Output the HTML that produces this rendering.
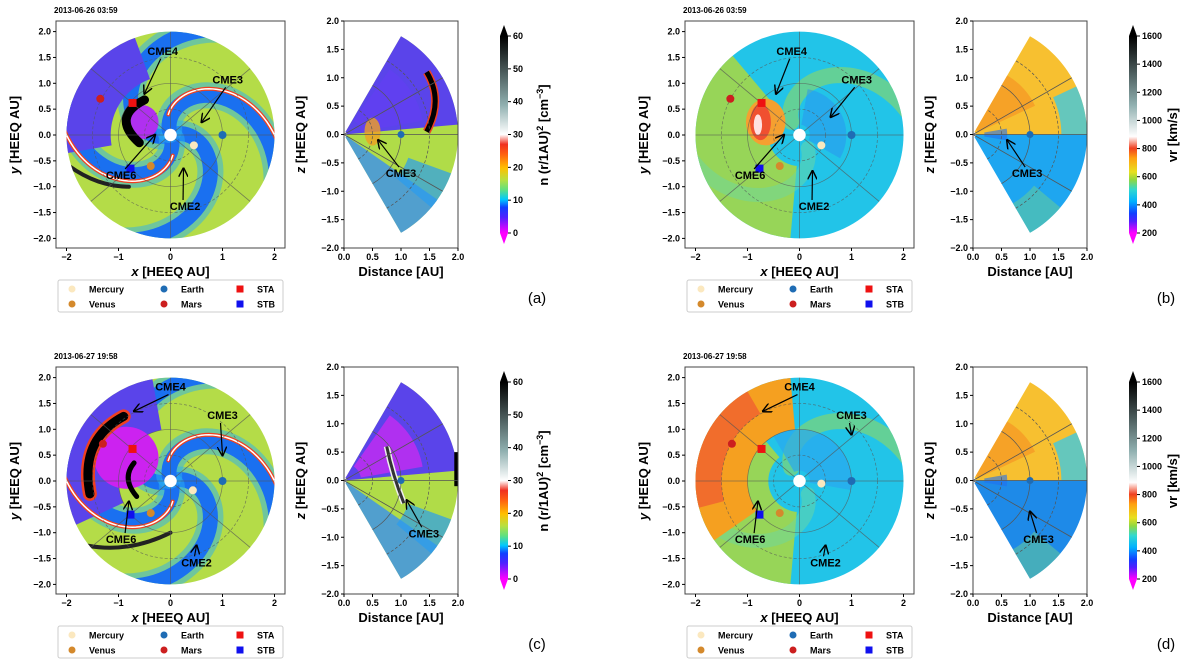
<!DOCTYPE html>
<html><head><meta charset="utf-8"><style>
html,body{margin:0;padding:0;background:#fff}
svg{display:block;font-family:"Liberation Sans",sans-serif}
</style></head><body>
<svg id="fig" width="1200" height="664" viewBox="0 0 1200 664" xmlns="http://www.w3.org/2000/svg">
<defs>
<linearGradient id="cbN" x1="0" y1="1" x2="0" y2="0">
<stop offset="0" stop-color="#ff00ff"/><stop offset="0.08" stop-color="#5020ff"/><stop offset="0.13" stop-color="#1040ff"/><stop offset="0.17" stop-color="#00c8ff"/><stop offset="0.22" stop-color="#60e080"/><stop offset="0.27" stop-color="#b8e040"/><stop offset="0.33" stop-color="#ffc000"/><stop offset="0.4" stop-color="#ff6010"/><stop offset="0.45" stop-color="#f03020"/><stop offset="0.5" stop-color="#ffffff"/><stop offset="0.65" stop-color="#90b0b0"/><stop offset="1" stop-color="#000000"/>
</linearGradient>
<linearGradient id="cbV" x1="0" y1="1" x2="0" y2="0">
<stop offset="0" stop-color="#ff00ff"/><stop offset="0.06" stop-color="#5020ff"/><stop offset="0.1" stop-color="#1040ff"/><stop offset="0.16" stop-color="#00b0ff"/><stop offset="0.22" stop-color="#30d8d0"/><stop offset="0.27" stop-color="#90d840"/><stop offset="0.31" stop-color="#e8e020"/><stop offset="0.38" stop-color="#ffa010"/><stop offset="0.43" stop-color="#f04020"/><stop offset="0.49" stop-color="#ffffff"/><stop offset="0.65" stop-color="#90b0b0"/><stop offset="1" stop-color="#000000"/>
</linearGradient>
<marker id="ah" markerWidth="8" markerHeight="8" refX="7" refY="4" orient="auto"><path d="M0,0 L8,4 L0,8" fill="none" stroke="#000" stroke-width="1.2"/></marker>
</defs>
</svg>
<script>
const xTicks=[-2,-1,0,1,2];
const yTicks=[2.0,1.5,1.0,0.5,0.0,-0.5,-1.0,-1.5,-2.0];
const dTicks=[0.0,0.5,1.0,1.5,2.0];
const nCbTicks=[0,10,20,30,40,50,60];
const vCbTicks=[200,400,600,800,1000,1200,1400,1600];
const dates=["2013-06-26 03:59","2013-06-26 03:59","2013-06-27 19:58","2013-06-27 19:58"];
const letters=["(a)","(b)","(c)","(d)"];
const kinds=["n","v","n","v"];
const mercuryPos=[[0.45,-0.2],[0.42,-0.2],[0.43,-0.18],[0.42,-0.05]];
const venusPos=[[-0.38,-0.6],[-0.38,-0.6],[-0.38,-0.62],[-0.38,-0.62]];
const earthPos=[[1.0,0.0],[1.0,0.0],[1.0,0.0],[1.0,0.0]];
const marsPos=[[-1.35,0.7],[-1.33,0.7],[-1.3,0.72],[-1.3,0.72]];
const staPos=[[-0.73,0.62],[-0.73,0.62],[-0.73,0.62],[-0.73,0.62]];
const stbPos=[[-0.77,-0.65],[-0.77,-0.65],[-0.77,-0.65],[-0.77,-0.65]];
const cmeLabels=["CME4","CME3","CME6","CME2"];
const cmeText=[[[-0.15,1.55],[1.1,1.0],[-0.95,-0.85],[0.28,-1.45]],[[-0.15,1.55],[1.1,1.0],[-0.95,-0.85],[0.28,-1.45]],[[0.0,1.75],[1.0,1.2],[-0.95,-1.2],[0.5,-1.65]],[[0.0,1.75],[1.0,1.2],[-0.95,-1.2],[0.5,-1.65]]];
const cmeTip=[[[-0.5,0.8],[0.6,0.25],[-0.3,0.0],[0.25,-0.65]],[[-0.45,0.8],[0.6,0.35],[-0.3,0.0],[0.25,-0.7]],[[-0.7,1.35],[1.0,0.5],[-0.8,-0.4],[0.5,-1.25]],[[-0.7,1.35],[1.0,0.9],[-0.8,-0.4],[0.5,-1.25]]];
const wedgeCmeText=[[1.0,-0.75],[0.95,-0.75],[1.4,-1.0],[1.15,-1.1]];
const wedgeCmeTip=[[0.6,-0.1],[0.6,-0.1],[1.1,-0.35],[1.0,-0.55]];
const offsets=[[0,0],[629,0],[0,346],[629,346]];

const svg=document.getElementById('fig');
const NS="http://www.w3.org/2000/svg";
function mk(tag,attrs,parent){const e=document.createElementNS(NS,tag);for(const k in attrs)e.setAttribute(k,attrs[k]);(parent||svg).appendChild(e);return e;}
function txt(s,x,y,size,anchor,parent,extra){const t=mk('text',Object.assign({x:x,y:y,'font-size':size,'font-weight':'bold','text-anchor':anchor||'middle',fill:'#000'},extra||{}),parent);t.textContent=s;return t;}

function panel(p){
  const ox=offsets[p][0],oy=offsets[p][1],kind=kinds[p],late=p>=2;
  const g=mk('g',{});
  
  
  const cx=ox+170.5,cy=oy+135,sx=52,sy=51.7;
  const X=x=>cx+x*sx, Y=y=>cy-y*sy;
  const P=(r,a)=>[X(r*Math.cos(a*Math.PI/180)),Y(r*Math.sin(a*Math.PI/180))];
  function sector(r1,r2,a1,a2,fill,par,op){let pts=[];for(let i=0;i<=40;i++){pts.push(P(r2,a1+(a2-a1)*i/40));}for(let i=40;i>=0;i--){pts.push(P(r1,a1+(a2-a1)*i/40));}return mk('polygon',{points:pts.map(q=>q.join(',')).join(' '),fill:fill,opacity:op||1},par);}
  function spiral(phi0,k,r1,r2,col,w,par,op){let pts=[];for(let i=0;i<=40;i++){const r=r1+(r2-r1)*i/40;pts.push(P(r,phi0+k*r));}return mk('polyline',{points:pts.map(q=>q.join(',')).join(' '),fill:'none',stroke:col,'stroke-width':w,'stroke-linecap':'round',opacity:op||1},par);}
  function curve(a,b,c,col,w,par){return mk('path',{d:`M${X(a[0])},${Y(a[1])} Q${X(b[0])},${Y(b[1])} ${X(c[0])},${Y(c[1])}`,stroke:col,fill:'none','stroke-width':w,'stroke-linecap':'round'},par);}
  const dt=txt(dates[p],ox+54,oy+13,8,'start',g);
  
  const clipId='clip'+p;
  const cp=mk('clipPath',{id:clipId},g);mk('ellipse',{cx:cx,cy:cy,rx:2*sx,ry:2*sy},cp);
  const map=mk('g',{'clip-path':'url(#'+clipId+')'},g);
  
  if(kind==='n'){
    mk('rect',{x:cx-110,y:cy-110,width:220,height:220,fill:'#b4dc48'},map);
    [200,20,290,110].forEach((s,i)=>{spiral(s,-60,0.1,2.3,'#2ab0f0',26,map,0.5);spiral(s,-60,0.1,2.3,'#1a70f0',15,map);});
    if(late){
      sector(1.0,2.1,100,205,'#5a44ea',map);
      mk('ellipse',{cx:X(-0.85),cy:Y(0.45),rx:0.62*sx,ry:0.6*sy,fill:'#cc22f0'},map);
      curve([-1.55,-0.25],[-1.75,0.8],[-0.9,1.25],'#f04020',14,map);
      curve([-1.55,-0.25],[-1.75,0.8],[-0.9,1.25],'#000',9,map);
      curve([-0.65,-0.3],[-0.95,0.05],[-0.7,0.35],'#000',5,map);
      curve([-1.6,-1.25],[-0.8,-1.4],[0.0,-1.0],'#222',4,map);
    } else {
      sector(1.15,2.1,110,190,'#5a44ea',map);
      mk('ellipse',{cx:X(-0.55),cy:Y(0.25),rx:0.32*sx,ry:0.33*sy,fill:'#b030f0'},map);
      curve([-0.5,0.68],[-1.15,0.35],[-0.6,-0.15],'#000',9,map);
      curve([-1.95,-0.6],[-1.4,-1.0],[-0.8,-1.0],'#222',4,map);
    }
    spiral(120,-60,0.4,2.3,'#f04020',4,map);spiral(120,-60,0.4,2.3,'#fff',1.5,map);
    spiral(300,-60,0.4,2.3,'#f04020',4,map);spiral(300,-60,0.4,2.3,'#fff',1.5,map);
  } else {
    mk('rect',{x:cx-110,y:cy-110,width:220,height:220,fill:'#22c4e8'},map);
    sector(0.6,2.1,130,265,'#9ed650',map,0.95);
    spiral(140,-60,0.3,2.2,'#8fd860',16,map,0.6);
    spiral(320,-60,0.3,2.2,'#6cd8a0',14,map,0.5);
    if(late){sector(1.0,2.05,95,215,'#f5a020',map);sector(1.5,2.05,120,195,'#f06030',map,0.8);sector(0.2,1.0,-10,120,'#2aa8f0',map,0.7);}
    else{mk('ellipse',{cx:X(-0.65),cy:Y(0.25),rx:0.38*sx,ry:0.45*sy,fill:'#f5a030'},map);
         mk('ellipse',{cx:X(-0.75),cy:Y(0.25),rx:0.2*sx,ry:0.35*sy,fill:'#f05030'},map);
         mk('ellipse',{cx:X(-0.8),cy:Y(0.2),rx:0.08*sx,ry:0.2*sy,fill:'#ffe0e0'},map);
         sector(0.2,0.9,-30,80,'#2a90f0',map,0.5);}
  }
  [0,90,40,140].forEach(a=>{const A=P(2,a),B=P(2,a+180);mk('line',{x1:A[0],y1:A[1],x2:B[0],y2:B[1],stroke:'#555','stroke-width':0.8,opacity:0.7},map);});
  [[0.5,'3,2'],[1.0,'none'],[1.5,'3,2']].forEach(c=>mk('ellipse',{cx:cx,cy:cy,rx:c[0]*sx,ry:c[0]*sy,fill:'none',stroke:'#555','stroke-width':0.7,'stroke-dasharray':c[1],opacity:0.7},map));
  mk('ellipse',{cx:cx,cy:cy,rx:0.12*sx,ry:0.12*sy,fill:'#fff'},map);
  const pl=[['mercury',mercuryPos,'#fbe8bf','c'],['venus',venusPos,'#d4892c','c'],['earth',earthPos,'#1f6cb4','c'],['mars',marsPos,'#cc1f1f','c'],['sta',staPos,'#ee1111','s'],['stb',stbPos,'#1010ee','s']];
  pl.forEach(q=>{const pos=q[1][p];let e;
    if(q[3]==='c')e=mk('circle',{cx:X(pos[0]),cy:Y(pos[1]),r:4,fill:q[2]},g);
    else e=mk('rect',{x:X(pos[0])-4,y:Y(pos[1])-4,width:8,height:8,fill:q[2]},g);
    });
  cmeLabels.forEach((l,i)=>{const t=cmeText[p][i],tp=cmeTip[p][i];
    mk('line',{x1:X(t[0])+(tp[0]>t[0]?4:-2),y1:Y(t[1])+(tp[1]<t[1]?4:-10),x2:X(tp[0]),y2:Y(tp[1]),stroke:'#000','stroke-width':1.2,'marker-end':'url(#ah)'},g);
    const e=txt(l,X(t[0]),Y(t[1]),11,'middle',g);});
  mk('rect',{x:ox+56,y:oy+21,width:229,height:227,fill:'none',stroke:'#444','stroke-width':1},g);
  xTicks.forEach(v=>{mk('line',{x1:X(v),y1:oy+248,x2:X(v),y2:oy+251,stroke:'#000'},g);txt(v<0?'\u2212'+(-v):String(v),X(v),oy+260,9,'middle',g);});
  yTicks.forEach(v=>{mk('line',{x1:ox+53,y1:Y(v),x2:ox+56,y2:Y(v),stroke:'#000'},g);txt((v<0?'\u2212':'')+Math.abs(v).toFixed(1),ox+51,Y(v)+3,9,'end',g);});
  const xl=txt('',X(0),oy+276,13,'middle',g);xl.innerHTML='<tspan font-style="italic">x</tspan> [HEEQ AU]';
  
  const yl=txt('',ox+19,cy,13,'middle',g,{transform:`rotate(-90 ${ox+19} ${cy})`});yl.innerHTML='<tspan font-style="italic">y</tspan> [HEEQ AU]';
  
  const lg=mk('g',{},g);
  mk('rect',{x:ox+58,y:oy+280,width:225,height:32,fill:'#fff',stroke:'#ccc',rx:2},lg);
  const le=[['Mercury','#fbe8bf','c',72,289],['Venus','#d4892c','c',72,304],['Earth','#1f6cb4','c',164,289],['Mars','#cc1f1f','c',164,304],['STA','#ee1111','s',240,289],['STB','#1010ee','s',240,304]];
  le.forEach(q=>{const e=mk('g',{},lg);
    if(q[2]==='c')mk('circle',{cx:ox+q[3],cy:oy+q[4],r:3.5,fill:q[1]},e);else mk('rect',{x:ox+q[3]-3.5,y:oy+q[4]-3.5,width:7,height:7,fill:q[1]},e);
    txt(q[0],ox+q[3]+17,oy+q[4]+3.5,9,'start',e);});
  // wedge
  const wx=ox+344,wy=oy+134.5,wsx=57,wsy=56.75;
  const WX=d=>wx+d*wsx,WY=z=>wy-z*wsy;
  const WP=(r,a)=>[WX(r*Math.cos(a*Math.PI/180)),WY(r*Math.sin(a*Math.PI/180))];
  function wsec(r1,r2,a1,a2,fill,par,op){let pts=[];for(let i=0;i<=30;i++)pts.push(WP(r2,a1+(a2-a1)*i/30));for(let i=30;i>=0;i--)pts.push(WP(r1,a1+(a2-a1)*i/30));return mk('polygon',{points:pts.map(q=>q.join(',')).join(' '),fill:fill,opacity:op||1},par);}
  const wg=mk('g',{},g);
  if(kind==='n'){
    wsec(0.05,2,-60,60,'#b0dc48',wg);
    wsec(0.05,2,-60,-35,'#3a90f0',wg,0.8);
    wsec(0.05,2,5,60,'#5a44ea',wg);
    wsec(0.3,1.4,10,55,late?'#b030f0':'#6040f0',wg);
    wsec(1.2,2,-40,-20,'#2a9cf0',wg,0.7);
    if(late){mk('path',{d:`M${WX(1.05)},${WY(-0.4)} Q${WX(0.85)},${WY(0.1)} ${WX(0.75)},${WY(0.6)}`,stroke:'#eee',fill:'none','stroke-width':6},wg);
             mk('path',{d:`M${WX(1.05)},${WY(-0.4)} Q${WX(0.85)},${WY(0.1)} ${WX(0.75)},${WY(0.6)}`,stroke:'#333',fill:'none','stroke-width':3},wg);
             mk('path',{d:`M${WX(1.97)},${WY(-0.1)} L${WX(1.97)},${WY(0.5)}`,stroke:'#000',fill:'none','stroke-width':4},wg);}
    else{mk('path',{d:`M${WX(1.45)},${WY(0.05)} Q${WX(1.75)},${WY(0.6)} ${WX(1.45)},${WY(1.1)}`,stroke:'#f04020',fill:'none','stroke-width':8},wg);
         mk('path',{d:`M${WX(1.45)},${WY(0.05)} Q${WX(1.75)},${WY(0.6)} ${WX(1.45)},${WY(1.1)}`,stroke:'#000',fill:'none','stroke-width':5},wg);
         mk('ellipse',{cx:WX(0.5),cy:WY(0.05),rx:8,ry:14,fill:'#f0a020',opacity:0.8},wg);}
  } else {
    wsec(0.05,2,-60,0,late?'#1e8ae8':'#1ea6f0',wg);
    wsec(0.05,2,0,60,'#f7c030',wg);
    wsec(0.1,1.2,25,60,'#f59a25',wg,0.8);
    wsec(1.55,2,0,25,'#40c8e0',wg,0.8);
    wsec(1.4,2,-60,-40,'#6cd090',wg,0.5);
    wsec(0.2,0.6,-10,10,'#2070f0',wg,0.6);
  }
  mk('line',{x1:WX(0),y1:WY(0),x2:WX(2),y2:WY(0),stroke:'#555','stroke-width':0.8},wg);
  [30,-30].forEach(a=>{const A=WP(2,a);mk('line',{x1:WX(0),y1:WY(0),x2:A[0],y2:A[1],stroke:'#555','stroke-width':0.8},wg);});
  [0.5,1.0,1.5].forEach(r=>{const A=WP(r,-60),B=WP(r,60);mk('path',{d:`M${A[0]},${A[1]} A${r*wsx},${r*wsy} 0 0 0 ${B[0]},${B[1]}`,fill:'none',stroke:'#555','stroke-width':0.7,'stroke-dasharray':r===1?'none':'3,2'},wg);});
  const ep=earthPos[p];const ee=mk('circle',{cx:WX(ep[0]),cy:WY(ep[1]),r:3.5,fill:'#1f6cb4'},wg);
  
  const wt=wedgeCmeText[p],wtp=wedgeCmeTip[p];
  mk('line',{x1:WX(wt[0])-2,y1:WY(wt[1])-10,x2:WX(wtp[0]),y2:WY(wtp[1]),stroke:'#000','stroke-width':1.2,'marker-end':'url(#ah)'},g);
  const wl=txt('CME3',WX(wt[0]),WY(wt[1]),11,'middle',g);
  mk('rect',{x:wx,y:oy+21,width:114,height:227,fill:'none',stroke:'#444'},g);
  dTicks.forEach(v=>{mk('line',{x1:WX(v),y1:oy+248,x2:WX(v),y2:oy+251,stroke:'#000'},g);txt(v.toFixed(1),WX(v),oy+260,9,'middle',g);});
  yTicks.forEach(v=>{mk('line',{x1:wx-3,y1:WY(v),x2:wx,y2:WY(v),stroke:'#000'},g);txt((v<0?'\u2212':'')+Math.abs(v).toFixed(1),wx-5,WY(v)+3,9,'end',g);});
  const dl=txt('Distance [AU]',wx+57,oy+276,13,'middle',g);
  const zl=txt('',ox+305,wy,13,'middle',g,{transform:`rotate(-90 ${ox+305} ${wy})`});zl.innerHTML='<tspan font-style="italic">z</tspan> [HEEQ AU]';
  
  // colorbar
  const cb=mk('g',{},g);
  const ticks=kind==='n'?nCbTicks:vCbTicks;const vmin=ticks[0],vmax=ticks[ticks.length-1];
  const cbx=ox+500,ct=oy+36,cbot=oy+233;
  mk('polygon',{points:`${cbx},${ct} ${cbx+8},${ct} ${cbx+4},${oy+25}`,fill:'#000'},cb);
  mk('polygon',{points:`${cbx},${cbot} ${cbx+8},${cbot} ${cbx+4},${oy+244}`,fill:'#ff00ff'},cb);
  mk('rect',{x:cbx,y:ct,width:8,height:cbot-ct,fill:kind==='n'?'url(#cbN)':'url(#cbV)'},cb);
  ticks.forEach(v=>{const y=cbot-(v-vmin)/(vmax-vmin)*(cbot-ct);mk('line',{x1:cbx+8,y1:y,x2:cbx+11,y2:y,stroke:'#000'},cb);txt(String(v),cbx+13,y+3,9,'start',cb);});
  const cl=txt('',ox+548,oy+135,13,'middle',cb,{transform:`rotate(-90 ${ox+548} ${oy+135})`});
  cl.innerHTML=kind==='n'?'n (r/1AU)<tspan dy="-5" font-size="9">2</tspan><tspan dy="5">  [cm</tspan><tspan dy="-5" font-size="9">\u22123</tspan><tspan dy="5">]</tspan>':'vr  [km/s]';
  
  const pl2=mk('text',{x:ox+537,y:oy+303,'font-size':15,'text-anchor':'middle'},g);pl2.textContent=letters[p];
  
}
[0,1,2,3].forEach(panel);
</script>
</body></html>
